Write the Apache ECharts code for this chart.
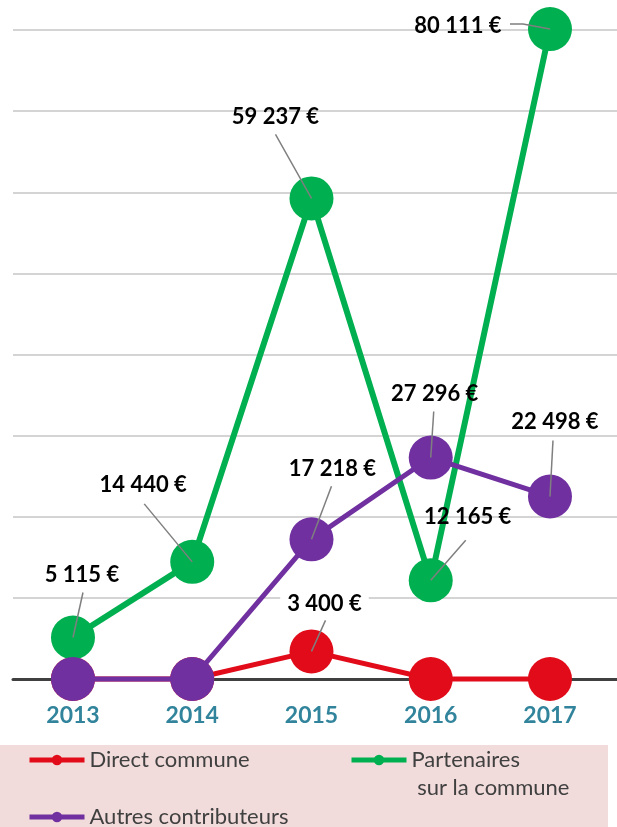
<!DOCTYPE html>
<html>
<head>
<meta charset="utf-8">
<style>
  html, body { margin: 0; padding: 0; background: #ffffff; }
  #chart { width: 617px; height: 827px; }
</style>
<script src="https://cdn.jsdelivr.net/npm/echarts@6/dist/echarts.min.js"></script>
</head>
<body>
<div id="chart"></div>
<script>
// Contributions per year, in euros
const years = [2013, 2014, 2015, 2016, 2017];
const directCommune = [0, 0, 3400, 0, 0];
const partenaires = [5115, 14440, 59237, 12165, 80111];
const autres = [0, 0, 17218, 27296, 22498];

const seriesNames = ['Direct commune', 'Partenaires sur la commune', 'Autres contributeurs'];
const seriesColors = ['#e20b1a', '#00b050', '#7030a0'];

// Which points carry a value callout
const labelledPoints = {
  0: [2],
  1: [0, 1, 2, 3, 4],
  2: [2, 3, 4]
};

// Callout placement, in pixels from the point: text centre and leader-line bends
const calloutLayout = {
  '0-2': { text: [13, -48], leader: [[14, -31]], boxed: true },
  '1-0': { text: [9, -63], leader: [[10, -45]] },
  '1-1': { text: [-49, -77], leader: [[-48, -58]] },
  '1-2': { text: [-36, -82], leader: [[-36, -64]] },
  '1-3': { text: [37, -63], leader: [[35, -40]] },
  '1-4': { text: [-92, -3], leader: [[-40, -5], [-27, -5]] },
  '2-2': { text: [21, -70], leader: [[20, -53]] },
  '2-3': { text: [4, -64], leader: [[3, -46]] },
  '2-4': { text: [5, -75], leader: [[3, -56]] }
};

const allValues = [directCommune, partenaires, autres];

function euro(v) {
  return String(v).replace(/\B(?=(\d{3})+(?!\d))/g, ' ') + ' €';
}

const chart = echarts.init(document.getElementById('chart'), null, { renderer: 'canvas' });

const lineSeries = allValues.map((vals, s) => ({
  name: seriesNames[s],
  type: 'line',
  data: years.map((y, i) => [y, vals[i]]),
  symbol: 'circle',
  symbolSize: 44,
  showAllSymbol: true,
  clip: false,
  z: 2 + s,
  itemStyle: { color: seriesColors[s] },
  lineStyle: { color: seriesColors[s], width: s === 1 ? 6 : 5 },
  emphasis: { disabled: true },
  animation: false
}));

const calloutData = [];
Object.keys(labelledPoints).forEach(s => {
  labelledPoints[s].forEach(i => {
    calloutData.push([years[i], allValues[s][i], Number(s), i]);
  });
});

const calloutSeries = {
  type: 'custom',
  coordinateSystem: 'cartesian2d',
  data: calloutData,
  encode: { x: 0, y: 1 },
  clip: false,
  z: 20,
  silent: true,
  animation: false,
  renderItem: function (params, api) {
    const x = api.value(0), y = api.value(1);
    const s = api.value(2), i = api.value(3);
    const p = api.coord([x, y]);
    const lay = calloutLayout[s + '-' + i];
    const pts = lay.leader.map(d => [p[0] + d[0], p[1] + d[1]]);
    pts.push([p[0], p[1]]);
    const textStyle = {
      text: euro(y),
      x: p[0] + lay.text[0],
      y: p[1] + lay.text[1],
      align: 'center',
      verticalAlign: 'middle',
      font: 'bold 22px Lato',
      fill: '#000000'
    };
    if (lay.boxed) {
      textStyle.backgroundColor = '#ffffff';
      textStyle.padding = [2, 7, 2, 7];
    }
    return {
      type: 'group',
      children: [
        { type: 'polyline', shape: { points: pts }, style: { stroke: '#7f7f7f', lineWidth: 1.5, fill: null } },
        { type: 'text', style: textStyle }
      ]
    };
  }
};

const legendText = { color: '#404040', fontFamily: 'Lato', fontSize: 22, lineHeight: 24 };
const legendBase = {
  orient: 'horizontal',
  padding: 0,
  itemWidth: 55,
  itemHeight: 13,
  itemGap: 0,
  selectedMode: false,
  lineStyle: { width: 5 },
  textStyle: legendText
};

chart.setOption({
  animation: false,
  backgroundColor: '#ffffff',
  graphic: [{
    type: 'rect',
    left: 0,
    top: 745,
    shape: { width: 608, height: 82 },
    style: { fill: '#f2dcdb' },
    z: -10,
    silent: true
  }],
  legend: [
    Object.assign({}, legendBase, { data: [seriesNames[0]], left: 27, top: 748 }),
    Object.assign({}, legendBase, {
      data: [seriesNames[1]], left: 349, top: 718,
      // blank first line keeps "Partenaires" level with the icon
      formatter: () => '\nPartenaires\n sur la commune',
      textStyle: Object.assign({}, legendText, { lineHeight: 28 })
    }),
    Object.assign({}, legendBase, { data: [seriesNames[2]], left: 27, top: 805 })
  ],
  grid: { left: 13, right: 0, top: 30, bottom: 148, containLabel: false },
  xAxis: {
    type: 'value',
    min: 2012.497,
    max: 2017.562,
    splitLine: { show: false },
    axisTick: { show: false },
    axisLine: { show: true, onZero: true, lineStyle: { color: '#404040', width: 3 } },
    axisLabel: {
      customValues: years,
      formatter: v => String(v),
      color: '#31849b',
      fontFamily: 'Lato',
      fontWeight: 'bold',
      fontSize: 23,
      margin: 25
    }
  },
  yAxis: {
    type: 'value',
    min: 0,
    max: 80000,
    interval: 10000,
    axisLine: { show: false },
    axisTick: { show: false },
    axisLabel: { show: false },
    splitLine: { show: true, lineStyle: { color: '#d4d4d4', width: 2 } }
  },
  series: lineSeries.concat([calloutSeries])
});
</script>
</body>
</html>
